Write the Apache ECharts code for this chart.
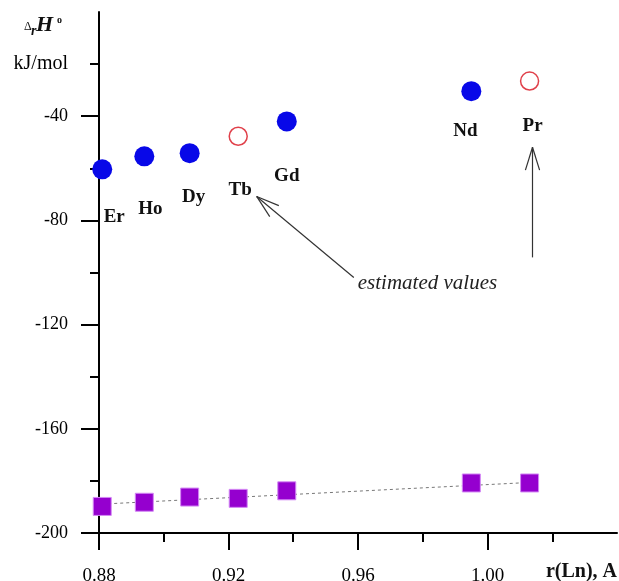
<!DOCTYPE html>
<html>
<head>
<meta charset="utf-8">
<script src="https://cdn.jsdelivr.net/npm/echarts@6/dist/echarts.min.js"></script>
<style>
  html, body { margin: 0; padding: 0; background: #fff; }
  #main { width: 619px; height: 581px; }
</style>
</head>
<body>
<div id="main"></div>
<script>
// lanthanide ionic radii and reaction enthalpies
const elements = ['Er', 'Ho', 'Dy', 'Tb', 'Gd', 'Nd', 'Pr'];
const radius = [0.881, 0.894, 0.908, 0.923, 0.938, 0.995, 1.013];
const measuredH = [-60.4, -55.4, -54.2, null, -42.0, -30.4, null];
const estimatedH = [null, null, null, -47.7, null, null, -26.5];
const lowerH = [-189.8, -188.2, -186.2, -186.7, -183.8, -180.8, -180.8];
const fitRadius = [0.881, 1.013];
const fitH = [-188.9, -180.6];

const xMajorTicks = [0.88, 0.92, 0.96, 1.00];
const yMajorTicks = [-200, -160, -120, -80, -40];
const yLabelValues = [-200, -160, -120, -80, -40, -20];

const serif = "'Liberation Serif', 'Times New Roman', serif";

// label placement relative to each marker (pixels)
const labelOffsets = {
    Er: [12, 48], Ho: [6, 53], Dy: [4, 44], Tb: [2, 54],
    Gd: [0, 55], Nd: [-6, 40], Pr: [3, 45]
};

function pointsFor(values) {
    const out = [];
    values.forEach((v, i) => {
        if (v === null) return;
        out.push({
            name: elements[i],
            value: [radius[i], v],
            label: { offset: labelOffsets[elements[i]] }
        });
    });
    return out;
}

const elementLabel = {
    show: true,
    position: 'inside',
    formatter: p => p.name,
    fontFamily: serif,
    fontWeight: 'bold',
    fontSize: 19,
    color: '#111'
};

const chart = echarts.init(document.getElementById('main'));

const option = {
    animation: false,
    grid: { left: 99, right: 2, top: 12, bottom: 48, outerBoundsMode: 'none' },
    xAxis: {
        type: 'value',
        min: 0.88,
        max: 1.04,
        interval: 0.04,
        axisLine: { onZero: false, lineStyle: { color: '#000', width: 2 } },
        axisTick: { customValues: xMajorTicks, length: 17, lineStyle: { color: '#000', width: 2 } },
        minorTick: { show: true, splitNumber: 2, length: 9, lineStyle: { color: '#000', width: 2 } },
        splitLine: { show: false },
        axisLabel: {
            customValues: xMajorTicks,
            formatter: v => v.toFixed(2),
            margin: 34,
            fontFamily: serif,
            fontSize: 19,
            color: '#000'
        }
    },
    yAxis: {
        type: 'value',
        min: -200,
        max: 0,
        interval: 40,
        axisLine: { onZero: false, lineStyle: { color: '#000', width: 2 } },
        axisTick: { customValues: yMajorTicks, length: 18, lineStyle: { color: '#000', width: 2 } },
        minorTick: { show: true, splitNumber: 2, length: 9, lineStyle: { color: '#000', width: 2 } },
        splitLine: { show: false },
        axisLabel: {
            customValues: yLabelValues,
            formatter: v => (v === -20 ? '{u|kJ/mol}' : String(v)),
            margin: 31,
            fontFamily: serif,
            fontSize: 18,
            color: '#000',
            rich: { u: { fontFamily: serif, fontSize: 20, color: '#000' } }
        }
    },
    series: [
        {
            type: 'line',
            data: fitRadius.map((x, i) => [x, fitH[i]]),
            showSymbol: false,
            lineStyle: { color: '#777', width: 1, type: [3, 3] },
            z: 1
        },
        {
            type: 'scatter',
            data: radius.map((x, i) => [x, lowerH[i]]),
            symbol: 'rect',
            symbolSize: 18,
            itemStyle: { color: '#9500cf', borderColor: '#d488f5', borderWidth: 1, opacity: 1 },
            z: 3
        },
        {
            type: 'scatter',
            data: pointsFor(measuredH),
            symbol: 'circle',
            symbolSize: 20,
            itemStyle: { color: '#0808e8', opacity: 1 },
            label: elementLabel,
            z: 3
        },
        {
            type: 'scatter',
            data: pointsFor(estimatedH),
            symbol: 'circle',
            symbolSize: 18,
            itemStyle: { color: '#fff', borderColor: '#e0404a', borderWidth: 1.5, opacity: 1 },
            label: elementLabel,
            z: 3
        }
    ]
};

chart.setOption(option);

// annotations: arrows pointing at the estimated values, in data coordinates
const arrows = [
    { from: [0.9587, -101.9], to: [0.9287, -70.8] },
    { from: [1.0139, -94.2], to: [1.0139, -51.9] }
];

const px = c => chart.convertToPixel({ xAxisIndex: 0, yAxisIndex: 0 }, c);
const arrowStyle = { stroke: '#333', lineWidth: 1.2, fill: null };
const graphics = [];

arrows.forEach(a => {
    const s = px(a.from);
    const t = px(a.to);
    graphics.push({ type: 'line', shape: { x1: s[0], y1: s[1], x2: t[0], y2: t[1] }, style: arrowStyle });
    const ang = Math.atan2(s[1] - t[1], s[0] - t[0]);
    [-0.3, 0.3].forEach(d => {
        graphics.push({
            type: 'line',
            shape: { x1: t[0], y1: t[1], x2: t[0] + 24 * Math.cos(ang + d), y2: t[1] + 24 * Math.sin(ang + d) },
            style: arrowStyle
        });
    });
});

const noteAt = px(arrows[0].from);
graphics.push({
    type: 'text',
    x: noteAt[0] + 4,
    y: noteAt[1] + 6,
    style: {
        text: 'estimated values',
        font: 'italic 21px ' + serif,
        fill: '#222',
        verticalAlign: 'middle'
    }
});

// y axis title: Δr H°
graphics.push(
    { type: 'text', x: 24, y: 27, style: { text: 'Δ', font: '12px ' + serif, fill: '#111', verticalAlign: 'middle' } },
    { type: 'text', x: 31, y: 31, style: { text: 'r', font: 'italic bold 14px ' + serif, fill: '#111', verticalAlign: 'middle' } },
    { type: 'text', x: 36, y: 25, style: { text: 'H', font: 'italic bold 22px ' + serif, fill: '#111', verticalAlign: 'middle' } },
    { type: 'text', x: 57, y: 20, style: { text: 'o', font: 'bold 10px ' + serif, fill: '#111', verticalAlign: 'middle' } }
);

// x axis title
graphics.push({
    type: 'text',
    x: 617,
    y: 572,
    style: {
        text: 'r(Ln), A',
        font: 'bold 20px ' + serif,
        fill: '#111',
        align: 'right',
        verticalAlign: 'middle'
    }
});

chart.setOption({ graphic: graphics });
</script>
</body>
</html>
